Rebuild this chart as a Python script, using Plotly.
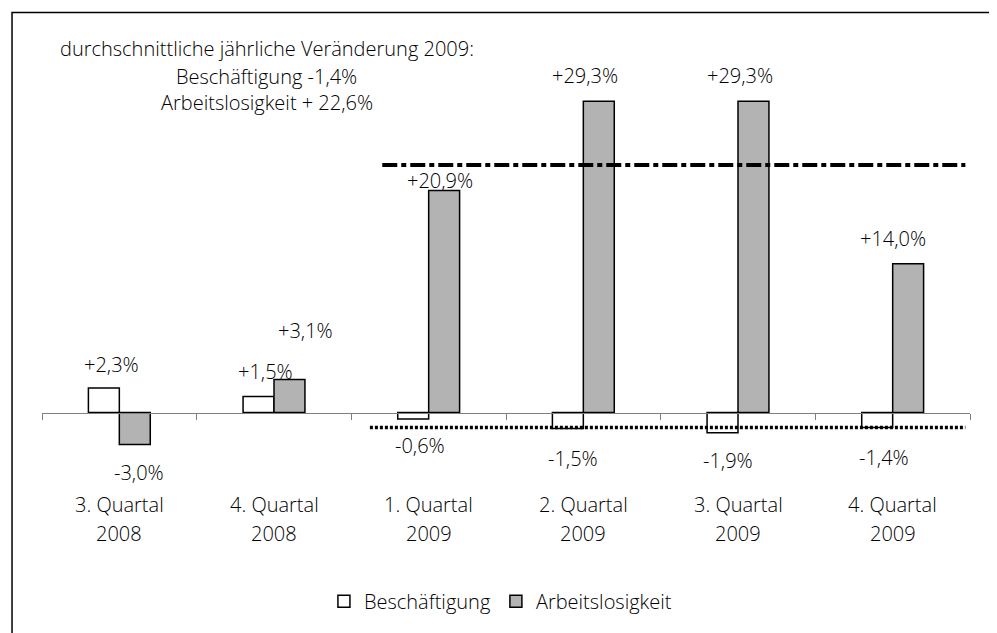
# -*- coding: utf-8 -*-
"""
Beschäftigung vs. Arbeitslosigkeit, Veränderung je Quartal
"""
import plotly.graph_objects as go

# data
quarters = ["3. Quartal", "4. Quartal", "1. Quartal", "2. Quartal", "3. Quartal", "4. Quartal"]
years = ["2008", "2008", "2009", "2009", "2009", "2009"]
beschaeftigung = [2.3, 1.5, -0.6, -1.5, -1.9, -1.4]
arbeitslosigkeit = [-3.0, 3.1, 20.9, 29.3, 29.3, 14.0]
lbl_besch = ["+2,3%", "+1,5%", "-0,6%", "-1,5%", "-1,9%", "-1,4%"]
lbl_arb = ["-3,0%", "+3,1%", "+20,9%", "+29,3%", "+29,3%", "+14,0%"]
# reference lines (position)
line_arb = 23.3
line_besch = -1.4

FONT = "Open Sans"
FS = 20
Y_MIN, Y_MAX = -4, 33

x = list(range(len(quarters)))

fig = go.Figure()
fig.add_trace(go.Bar(x=x, y=beschaeftigung, name="Beschäftigung",
                     marker=dict(color="white", line=dict(color="black", width=1.5))))
fig.add_trace(go.Bar(x=x, y=arbeitslosigkeit, name="Arbeitslosigkeit",
                     marker=dict(color="#b3b3b3", line=dict(color="black", width=1.5))))

# data labels, manual offsets as in the original
off_b = [(-8, 24), (-9, 25), (-9, -27), (-10, -30), (-10, -28), (-9, -30)]
off_a = [(20, -28), (31, 49), (11, 10), (2, 26), (2, 26), (0, 25)]
txtfont = dict(family=FONT, size=FS, color="black", weight=300)
anns = []
for i in x:
    for val, lbl, (dx, dy) in [(beschaeftigung[i], lbl_besch[i], off_b[i]),
                               (arbeitslosigkeit[i], lbl_arb[i], off_a[i])]:
        anns.append(dict(x=i, y=val, xref="x", yref="y", text=lbl, showarrow=False,
                         xanchor="center", yanchor="middle",
                         xshift=dx, yshift=dy, font=txtfont))
    # category labels, two rows
    for txt, yp in [(quarters[i], -0.126), (years[i], -0.2)]:
        anns.append(dict(x=i, y=yp, xref="x", yref="paper", text=txt, showarrow=False,
                         xanchor="center", yanchor="middle", font=txtfont))

# info text
info = ["durchschnittliche jährliche Veränderung 2009:",
        "Beschäftigung -1,4%",
        "Arbeitslosigkeit + 22,6%"]
for txt, yp in zip(info, [1.035, 0.962, 0.897]):
    anns.append(dict(x=0.242, y=yp, xref="paper", yref="paper", text=txt, showarrow=False,
                     xanchor="center", yanchor="middle", font=txtfont))

fig.add_shape(type="line", xref="x", yref="y", x0=1.7, x1=5.47, y0=line_arb, y1=line_arb,
              line=dict(color="black", width=4, dash="15px,4px,5px,4px"))
fig.add_shape(type="line", xref="x", yref="y", x0=1.62, x1=5.47, y0=line_besch, y1=line_besch,
              line=dict(color="black", width=3.5, dash="3px,2px"))
# outer frame (right/bottom lie outside the picture)
fig.add_shape(type="rect", xref="paper", yref="paper", x0=-0.0323, x1=1.06, y0=-0.6, y1=1.126,
              line=dict(color="black", width=1.5), fillcolor="rgba(0,0,0,0)")

# page body has an 8px margin, so the figure is made 8px smaller
fig.update_layout(
    width=989, height=625,
    margin=dict(l=34, r=27, t=54, b=175),
    paper_bgcolor="white", plot_bgcolor="white",
    barmode="group", bargap=0.6, bargroupgap=0,
    font=txtfont,
    annotations=anns,
    legend=dict(orientation="h", x=0.494, xanchor="center", y=-0.372, yanchor="middle",
                font=txtfont, itemwidth=30),
    xaxis=dict(range=[-0.5, 5.5], tickvals=[v - 0.5 for v in range(len(quarters) + 1)],
               showticklabels=False, ticks="outside", ticklen=6, tickcolor="#808080",
               showline=True, linecolor="#808080", linewidth=1, showgrid=False, zeroline=False,
               anchor="free", position=(0 - Y_MIN) / (Y_MAX - Y_MIN)),
    yaxis=dict(range=[Y_MIN, Y_MAX], visible=False),
)

fig.write_html("out.html")
